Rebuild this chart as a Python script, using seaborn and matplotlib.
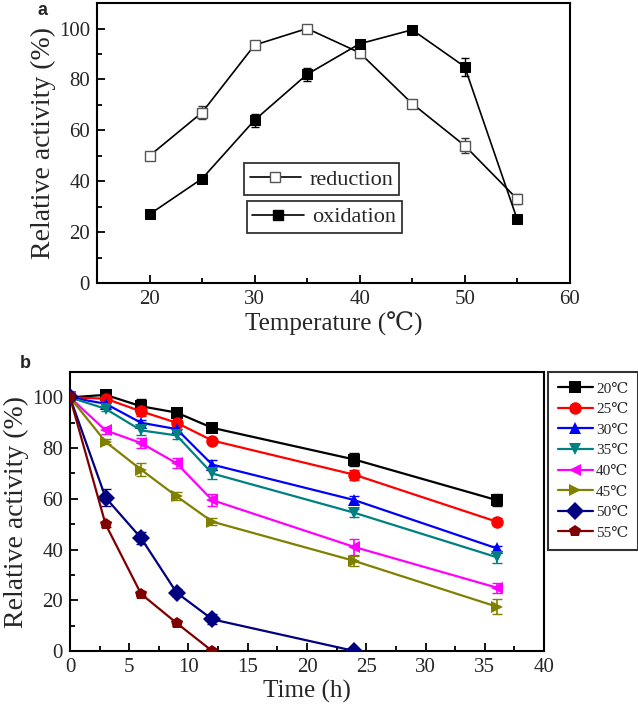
import numpy as np
import pandas as pd
import matplotlib
matplotlib.use("Agg")
import matplotlib.pyplot as plt
from matplotlib.ticker import MultipleLocator
from matplotlib.lines import Line2D
import seaborn as sns

# ---------- data: panel a ----------
temps = [20, 25, 30, 35, 40, 45, 50, 55]
reduction = [50, 67, 93.5, 100, 90.5, 70.5, 54, 33]
reduction_err = [1, 2.5, 1.5, 1, 2, 1, 3, 2]
oxidation = [27, 41, 64, 82, 94, 99.5, 85, 25]
oxidation_err = [1.5, 1, 2.5, 2.5, 1.5, 1, 3.5, 1]

# ---------- data: panel b ----------
times = [0, 3, 6, 9, 12, 24, 36]
series_labels = ["20℃", "25℃", "30℃", "35℃", "40℃", "45℃", "50℃", "55℃"]
act_20 = [100, 101, 96.5, 94, 88, 75.5, 59.5]
act_25 = [100, 99.5, 94.5, 90, 83, 69.5, 51]
act_30 = [100, 97.5, 90, 87.5, 73.5, 59.5, 40.5]
act_35 = [100, 95.5, 87, 85, 70, 54.5, 37]
act_40 = [100, 87, 82, 74, 59.5, 41, 25]
act_45 = [100, 82.5, 71.5, 61, 51, 35.5, 17.5]
act_50 = [100, 60.5, 44.5, 23, 12.5, 0]
act_55 = [100, 50, 22.5, 11, 0]
err_20 = [0, 1, 3, 1, 1, 2.5, 2.5]
err_25 = [0, 1, 2, 2.5, 1, 2, 1.5]
err_30 = [0, 1, 1, 2, 2, 1.5, 1]
err_35 = [0, 1, 2, 1.5, 2, 1.5, 2.5]
err_40 = [0, 1.5, 2, 2, 2.5, 3, 2]
err_45 = [0, 1, 2.5, 1.5, 1.5, 2, 3]
err_50 = [0, 3.5, 2.5, 1.5, 2, 0]
err_55 = [0, 1, 1, 1, 0]

acts = [act_20, act_25, act_30, act_35, act_40, act_45, act_50, act_55]
errs = [err_20, err_25, err_30, err_35, err_40, err_45, err_50, err_55]
colors = ["#000000", "#FF0000", "#0000FF", "#008080", "#FF00FF", "#808000", "#000080", "#800000"]
markers = ["s", "o", "^", "v", "<", ">", "D", "p"]

sns.set_theme(style="white")
plt.rcParams["font.family"] = ["Liberation Serif", "DejaVu Serif", "DejaVu Sans"]

fig = plt.figure(figsize=(6.38, 7.16), dpi=100)
ax1 = fig.add_axes([0.152, 0.6047, 0.741, 0.391])
ax2 = fig.add_axes([0.1097, 0.0908, 0.743, 0.3896])

def style_axes(ax, xmaj, xmin, ymaj, ymin, lw=1.5):
    for s in ax.spines.values():
        s.set_visible(True)
        s.set_color("black")
        s.set_linewidth(lw)
    ax.xaxis.set_major_locator(MultipleLocator(xmaj))
    ax.xaxis.set_minor_locator(MultipleLocator(xmin))
    ax.yaxis.set_major_locator(MultipleLocator(ymaj))
    ax.yaxis.set_minor_locator(MultipleLocator(ymin))
    ax.tick_params(which="both", direction="in", top=False, right=False,
                   bottom=True, left=True, color="black", width=1.3)
    ax.tick_params(which="major", length=6, labelsize=15, pad=5)
    ax.tick_params(which="minor", length=3.5)
    ax.grid(False)

# ---------- panel a ----------
dfa = pd.DataFrame({
    "Temperature": temps * 2,
    "Activity": reduction + oxidation,
    "Mode": ["reduction"] * len(temps) + ["oxidation"] * len(temps),
})
sns.lineplot(data=dfa[dfa.Mode == "reduction"], x="Temperature", y="Activity", ax=ax1,
             color="black", lw=1.2, marker="s", markersize=7, markerfacecolor="white",
             markeredgecolor="#555555", markeredgewidth=1.0, legend=False, zorder=3)
sns.lineplot(data=dfa[dfa.Mode == "oxidation"], x="Temperature", y="Activity", ax=ax1,
             color="black", lw=1.2, marker="s", markersize=7, markerfacecolor="black",
             markeredgecolor="black", legend=False, zorder=3)
ax1.errorbar(temps, reduction, yerr=reduction_err, fmt="none", ecolor="#333333",
             elinewidth=1, capsize=3, zorder=2)
ax1.errorbar(temps, oxidation, yerr=oxidation_err, fmt="none", ecolor="black",
             elinewidth=1, capsize=3, zorder=2)
ax1.set_xlim(15, 60)
ax1.set_ylim(0, 110)
style_axes(ax1, 10, 5, 20, 10)
ax1.set_xlabel("Temperature (℃)", fontsize=18, labelpad=2)
ax1.set_ylabel("Relative activity (%)", fontsize=20, labelpad=2)

h_red = Line2D([], [], color="black", lw=1.2, marker="s", markersize=7,
               markerfacecolor="white", markeredgecolor="#555555")
h_ox = Line2D([], [], color="black", lw=1.2, marker="s", markersize=7,
              markerfacecolor="black", markeredgecolor="black")
leg_kw = dict(frameon=True, fancybox=False, edgecolor="black", fontsize=16,
              handlelength=2.3, handletextpad=0.4, borderpad=0.25, borderaxespad=0)
l1 = ax1.legend([h_red], ["reduction"], loc="lower left", bbox_to_anchor=(0.311, 0.314), **leg_kw)
l1.get_frame().set_linewidth(1.3)
ax1.add_artist(l1)
l2 = ax1.legend([h_ox], ["oxidation"], loc="lower left", bbox_to_anchor=(0.317, 0.179), **leg_kw)
l2.get_frame().set_linewidth(1.3)

fig.text(0.067, 0.985, "a", fontsize=13, fontweight="bold", family="Liberation Sans",
         ha="center", va="center")

# ---------- panel b ----------
rows = []
for lab, a in zip(series_labels, acts):
    for t, v in zip(times, a):
        rows.append({"Time": t, "Activity": v, "Temp": lab})
dfb = pd.DataFrame(rows)
for lab, a, e, c in zip(series_labels, acts, errs, colors):
    ax2.errorbar(times[:len(a)], a, yerr=e, fmt="none", ecolor=c, elinewidth=1.2,
                 capsize=3.5, zorder=2)
sns.lineplot(data=dfb, x="Time", y="Activity", hue="Temp", style="Temp",
             hue_order=series_labels, style_order=series_labels,
             palette=colors, markers=markers, dashes=False, lw=1.6,
             markersize=9, markeredgewidth=0, ax=ax2, zorder=3)
ax2.set_xlim(0, 40)
ax2.set_ylim(0, 110)
style_axes(ax2, 5, 2.5, 20, 10)
ax2.set_xlabel("Time (h)", fontsize=18, labelpad=2)
ax2.set_ylabel("Relative activity (%)", fontsize=20, labelpad=2)
leg = ax2.legend(loc="upper left", bbox_to_anchor=(1.008, 1.0), frameon=True,
                 fancybox=False, edgecolor="black", fontsize=11, handlelength=2.3,
                 handletextpad=0.2, labelspacing=0.45, borderpad=0.65, borderaxespad=0)
leg.get_frame().set_linewidth(1.5)

fig.text(0.039, 0.493, "b", fontsize=13, fontweight="bold", family="Liberation Sans",
         ha="center", va="center")

fig.savefig("out.png", dpi=100, facecolor="white")
